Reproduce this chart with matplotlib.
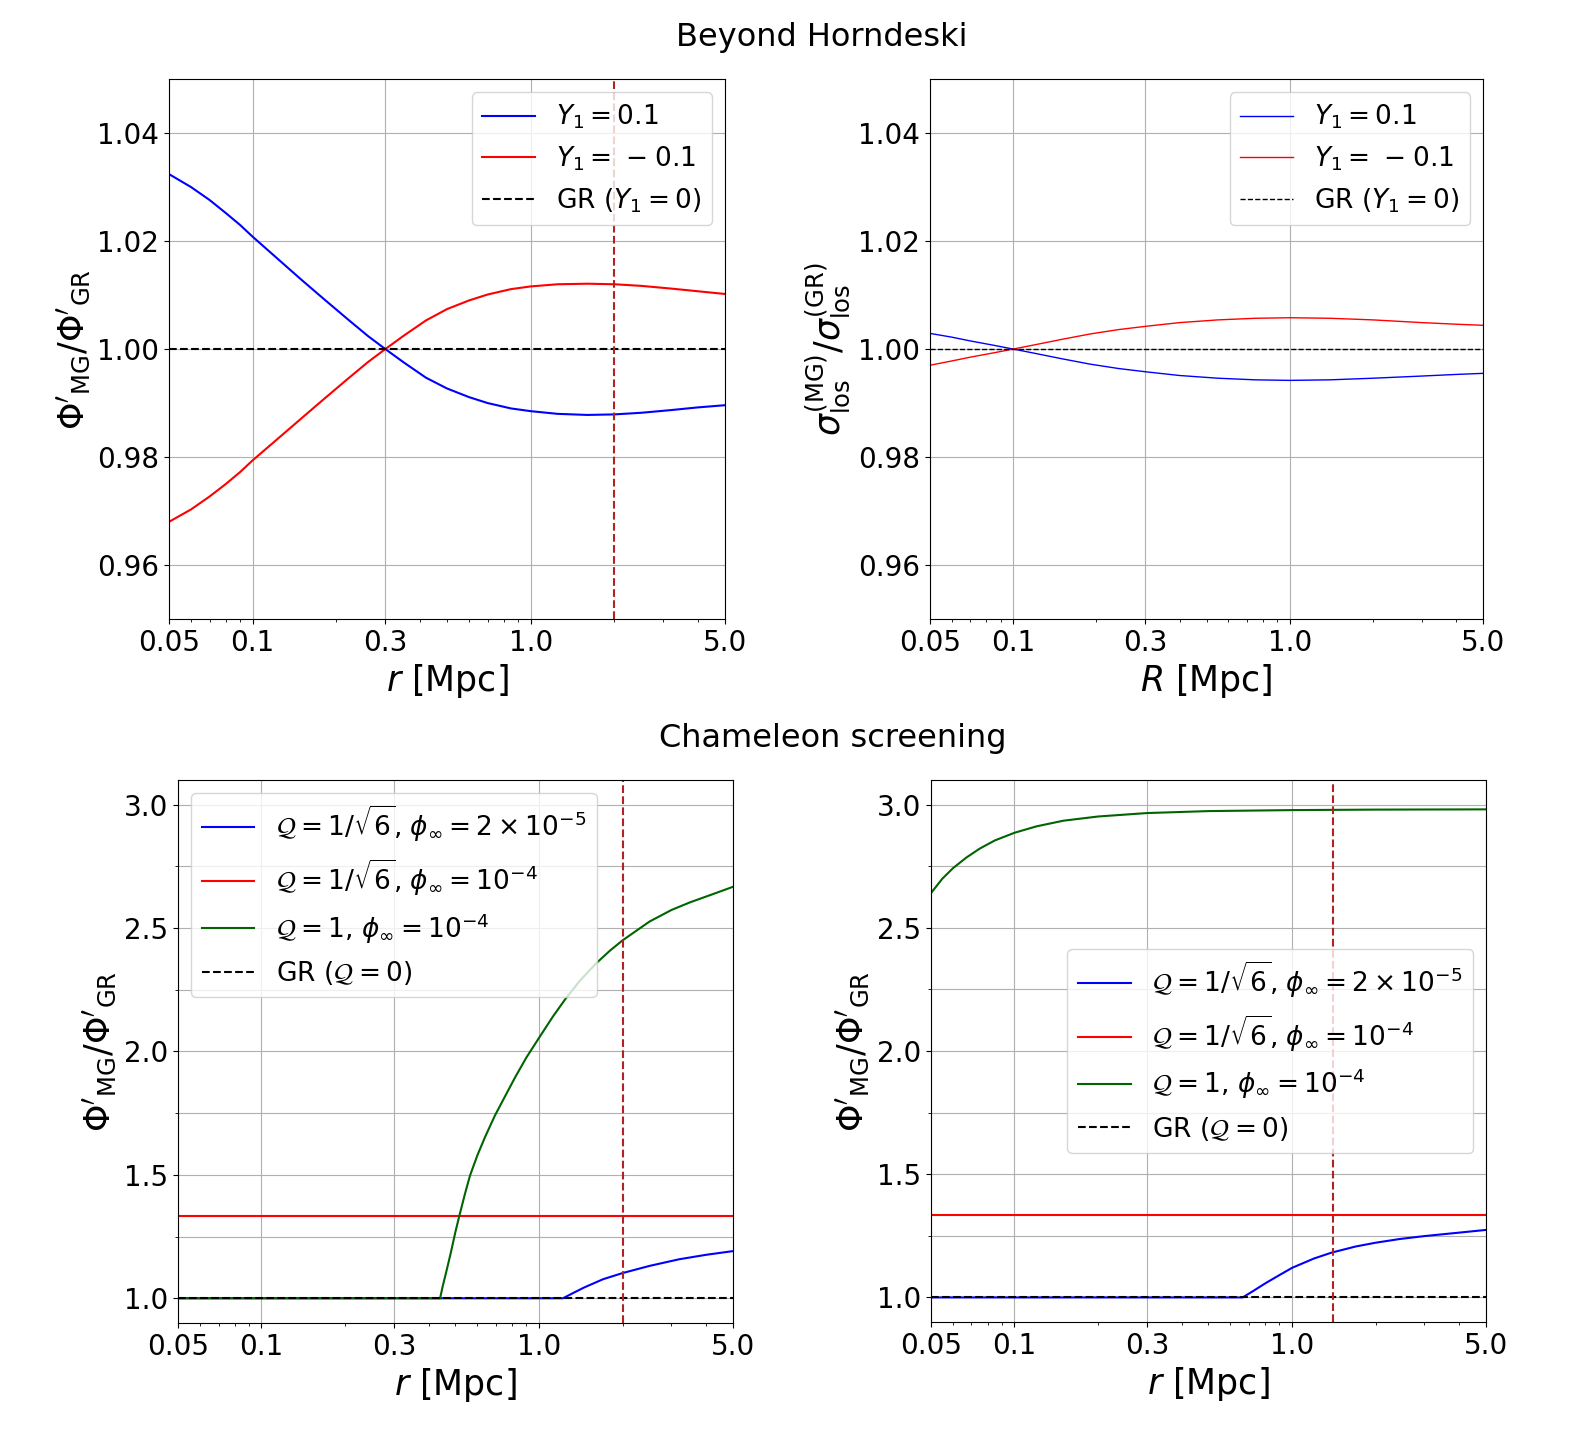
import matplotlib
matplotlib.use('Agg')
import matplotlib.pyplot as plt
from matplotlib.ticker import MultipleLocator, NullFormatter


# beyond Horndeski, force ratio vs r
r_bh = [0.05, 0.06, 0.07, 0.08, 0.09, 0.1, 0.12, 0.15, 0.18, 0.22, 0.26, 0.3, 0.35,
        0.42, 0.5, 0.6, 0.7, 0.85, 1.0, 1.25, 1.6, 2.0, 2.5, 3.2, 4.0, 5.0]
force_y1_pos = [1.0324, 1.0300, 1.0276, 1.0252, 1.0230, 1.0208, 1.0172, 1.0128, 1.0093, 1.0055,
                1.0024, 1.0000, 0.9975, 0.9947, 0.9927, 0.9911, 0.9900, 0.9890, 0.9885, 0.9880,
                0.9878, 0.9879, 0.9882, 0.9887, 0.9892, 0.9896]
force_y1_neg = [0.9680, 0.9703, 0.9727, 0.9750, 0.9772, 0.9794, 0.9829, 0.9872, 0.9907, 0.9945,
                0.9976, 1.0000, 1.0025, 1.0053, 1.0074, 1.0090, 1.0101, 1.0111, 1.0116, 1.0120,
                1.0121, 1.0120, 1.0117, 1.0112, 1.0107, 1.0102]

# beyond Horndeski, velocity dispersion ratio vs R
R_bh = [0.05, 0.06, 0.07, 0.085, 0.1, 0.12, 0.15, 0.19, 0.24, 0.3, 0.4, 0.55, 0.75, 1.0,
        1.4, 2.0, 3.0, 4.0, 5.0]
sig_y1_pos = [1.0029, 1.0022, 1.0015, 1.0007, 1.0000, 0.9992, 0.9982, 0.9972, 0.9964, 0.9958,
              0.9951, 0.9946, 0.9943, 0.9942, 0.9943, 0.9946, 0.9950, 0.9953, 0.9955]
sig_y1_neg = [0.9970, 0.9978, 0.9985, 0.9993, 1.0000, 1.0008, 1.0018, 1.0028, 1.0036, 1.0042,
              1.0049, 1.0054, 1.0057, 1.0058, 1.0057, 1.0054, 1.0049, 1.0046, 1.0044]

# chameleon, left panel
r_blue_l = [0.05, 1.22, 1.3, 1.45, 1.7, 2.0, 2.5, 3.2, 4.0, 5.0]
blue_l = [1.0, 1.0, 1.016, 1.043, 1.077, 1.102, 1.131, 1.158, 1.176, 1.191]
r_green_l = [0.05, 0.44, 0.45, 0.465, 0.48, 0.50, 0.516, 0.54, 0.564, 0.60, 0.64, 0.694, 0.76,
             0.82, 0.9, 1.0, 1.12, 1.24, 1.4, 1.6, 1.8, 2.0, 2.5, 3.0, 3.5, 4.2, 5.0]
green_l = [1.0, 1.0, 1.050, 1.115, 1.180, 1.270, 1.333, 1.420, 1.497, 1.580, 1.655, 1.741, 1.825,
           1.895, 1.975, 2.055, 2.140, 2.210, 2.285, 2.355, 2.408, 2.450, 2.526, 2.573, 2.604,
           2.636, 2.667]

# chameleon, right panel
r_blue_r = [0.05, 0.664, 0.722, 0.806, 0.905, 1.0, 1.2, 1.39, 1.7, 2.0, 2.44, 3.0, 4.0, 5.0]
blue_r = [1.0, 1.0, 1.025, 1.059, 1.092, 1.120, 1.158, 1.182, 1.207, 1.222, 1.237, 1.249, 1.263, 1.274]
r_green_r = [0.05, 0.055, 0.06, 0.067, 0.075, 0.085, 0.1, 0.12, 0.15, 0.2, 0.3, 0.5, 1.0, 2.0, 5.0]
green_r = [2.641, 2.700, 2.742, 2.785, 2.822, 2.855, 2.886, 2.912, 2.935, 2.952, 2.966, 2.974,
           2.978, 2.980, 2.981]

r_ends = [0.05, 5.0]
red_flat = [1.3333, 1.3333]
gr_flat = [1.0, 1.0]

r_vline = [2.0, 1.4]

xticks = [0.05, 0.1, 0.3, 1.0, 5.0]
xticklabels = ['0.05', '0.1', '0.3', '1.0', '5.0']

TICK_FS = 20
LABEL_FS = 25
LEGEND_FS = 19
TITLE_FS = 23

fig = plt.figure(figsize=(15.72, 14.4), dpi=100)
ax_tl = fig.add_axes([0.1075, 0.5701, 0.3537, 0.375])
ax_tr = fig.add_axes([0.5916, 0.5701, 0.3518, 0.375])
ax_bl = fig.add_axes([0.1132, 0.0813, 0.3531, 0.3771])
ax_br = fig.add_axes([0.5922, 0.0819, 0.3531, 0.3764])


def style_axis(ax, xlabel, ylabel):
    ax.set_xscale('log')
    ax.set_xlim(0.05, 5.0)
    ax.set_xticks(xticks)
    ax.set_xticklabels(xticklabels)
    ax.xaxis.set_minor_formatter(NullFormatter())
    ax.tick_params(labelsize=TICK_FS)
    ax.grid(True)
    ax.set_xlabel(xlabel, fontsize=LABEL_FS)
    ax.set_ylabel(ylabel, fontsize=LABEL_FS)


bh_labels = [r'$Y_1=0.1$', r'$Y_1=\ {-}\;0.1$', r'GR ($Y_1=0$)']

# top left
ax_tl.plot(r_bh, force_y1_pos, color='blue', lw=1.5, label=bh_labels[0])
ax_tl.plot(r_bh, force_y1_neg, color='red', lw=1.5, label=bh_labels[1])
ax_tl.plot(r_ends, gr_flat, 'k--', lw=1.5, label=bh_labels[2])
ax_tl.axvline(r_vline[0], color='firebrick', ls='--', lw=1.5)
ax_tl.set_ylim(0.95, 1.05)
ax_tl.set_yticks([0.96, 0.98, 1.00, 1.02, 1.04])
style_axis(ax_tl, r'$r$ [Mpc]', r"$\Phi'_{\rm MG}/\Phi'_{\rm GR}$")
ax_tl.legend(loc='upper right', fontsize=LEGEND_FS)

# top right
ax_tr.plot(R_bh, sig_y1_pos, color='blue', lw=1.0, label=bh_labels[0])
ax_tr.plot(R_bh, sig_y1_neg, color='red', lw=1.0, label=bh_labels[1])
ax_tr.plot(r_ends, gr_flat, 'k--', lw=1.0, label=bh_labels[2])
ax_tr.set_ylim(0.95, 1.05)
ax_tr.set_yticks([0.96, 0.98, 1.00, 1.02, 1.04])
style_axis(ax_tr, r'$R$ [Mpc]', r'$\sigma_{\rm los}^{\rm (MG)}/\sigma_{\rm los}^{\rm (GR)}$')
ax_tr.legend(loc='upper right', fontsize=LEGEND_FS)

# bottom panels
cham_labels = [r'$\mathcal{Q}=1/\sqrt{6}$, $\phi_\infty=2\times10^{-5}$',
               r'$\mathcal{Q}=1/\sqrt{6}$, $\phi_\infty=10^{-4}$',
               r'$\mathcal{Q}=1$, $\phi_\infty=10^{-4}$',
               r'GR ($\mathcal{Q}=0$)']

for ax, rb, yb, rg, yg, xv, loc in [(ax_bl, r_blue_l, blue_l, r_green_l, green_l, r_vline[0], 'upper left'),
                                    (ax_br, r_blue_r, blue_r, r_green_r, green_r, r_vline[1], 'center right')]:
    ax.plot(rb, yb, color='blue', lw=1.5, label=cham_labels[0])
    ax.plot(r_ends, red_flat, color='red', lw=1.5, label=cham_labels[1])
    ax.plot(rg, yg, color='darkgreen', lw=1.5, label=cham_labels[2])
    ax.plot(r_ends, gr_flat, 'k--', lw=1.5, label=cham_labels[3])
    ax.axvline(xv, color='firebrick', ls='--', lw=1.5)
    ax.set_ylim(0.9, 3.1)
    ax.set_yticks([1.0, 1.5, 2.0, 2.5, 3.0])
    ax.yaxis.set_minor_locator(MultipleLocator(0.25))
    style_axis(ax, r'$r$ [Mpc]', r"$\Phi'_{\rm MG}/\Phi'_{\rm GR}$")
    ax.grid(True, which='minor', axis='y')
    ax.legend(loc=loc, fontsize=LEGEND_FS)

fig.text(0.5229, 0.9743, 'Beyond Horndeski', fontsize=TITLE_FS, ha='center', va='center')
fig.text(0.530, 0.4875, 'Chameleon screening', fontsize=TITLE_FS, ha='center', va='center')

fig.savefig('out.png', dpi=100)
